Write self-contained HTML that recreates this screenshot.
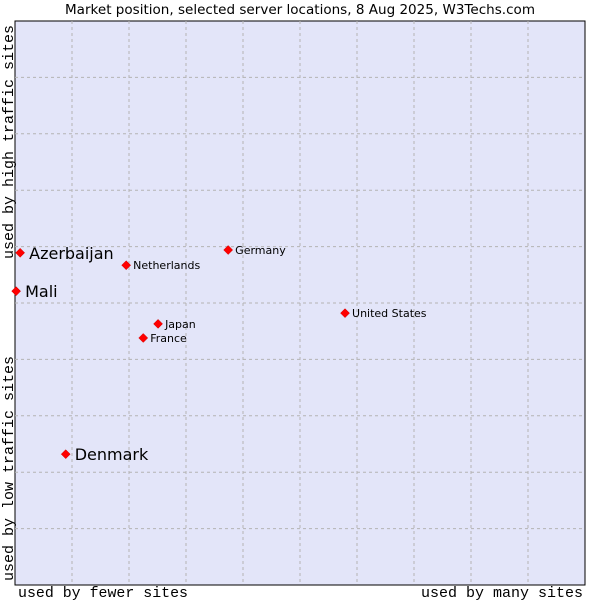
<!DOCTYPE html>
<html><head><meta charset="utf-8"><style>
body{margin:0;background:#fff;}
svg text{font-family:"DejaVu Sans","Liberation Sans",sans-serif;}
.mono{font-family:"Liberation Mono","DejaVu Sans Mono",monospace;font-size:15px;fill:#000;}
</style></head><body>
<svg id="chart" width="600" height="600" xmlns="http://www.w3.org/2000/svg">
<text x="300" y="14" text-anchor="middle" font-size="13" textLength="470" lengthAdjust="spacingAndGlyphs" fill="#000">Market position, selected server locations, 8 Aug 2025, W3Techs.com</text>
<rect x="15" y="21" width="570" height="564" fill="#e3e5f9" stroke="#000" stroke-width="1"/>
<g id="grid"></g>
<g id="points"></g>
<text class="mono" x="18" y="597" textLength="170" lengthAdjust="spacingAndGlyphs">used by fewer sites</text>
<text class="mono" x="421" y="597" textLength="162" lengthAdjust="spacingAndGlyphs">used by many sites</text>
<text class="mono" transform="translate(13,259) rotate(-90)" textLength="234" lengthAdjust="spacingAndGlyphs">used by high traffic sites</text>
<text class="mono" transform="translate(13,581) rotate(-90)" textLength="225" lengthAdjust="spacingAndGlyphs">used by low traffic sites</text>
</svg>
<script>
const names=["Azerbaijan","Mali","Denmark","Netherlands","Germany","Japan","France","United States"];
const xVals=[0.9,0.2,8.9,19.5,37.4,25.1,22.5,57.9];
const yVals=[58.9,52.1,23.2,56.7,59.4,46.3,43.8,48.2];
const big=[true,true,true,false,false,false,false,false];
const L=15,T=21,W=570,H=564,NS="http://www.w3.org/2000/svg";
const sx=v=>L+v/100*W, sy=v=>T+H-v/100*H;
const grid=document.getElementById('grid');
for(let i=1;i<10;i++){
  const vl=document.createElementNS(NS,'line');
  
  
  vl.setAttribute('x1',sx(i*10));vl.setAttribute('x2',sx(i*10));vl.setAttribute('y1',T);vl.setAttribute('y2',T+H);
  vl.setAttribute('stroke','#b4b4b4');vl.setAttribute('stroke-dasharray','3,3');grid.appendChild(vl);
  const hl=document.createElementNS(NS,'line');
  
  
  hl.setAttribute('y1',sy(i*10));hl.setAttribute('y2',sy(i*10));hl.setAttribute('x1',L);hl.setAttribute('x2',L+W);
  hl.setAttribute('stroke','#b4b4b4');hl.setAttribute('stroke-dasharray','3,3');grid.appendChild(hl);
}
const pts=document.getElementById('points');
names.forEach((n,i)=>{
  const x=sx(xVals[i]),y=sy(yVals[i]);
  const d=document.createElementNS(NS,'path');
  
  
  d.setAttribute('d',`M${x},${y-4.5}L${x+4.5},${y}L${x},${y+4.5}L${x-4.5},${y}Z`);
  d.setAttribute('fill','#f00');d.setAttribute('stroke','#c00');d.setAttribute('stroke-width','0.5');
  pts.appendChild(d);
  const t=document.createElementNS(NS,'text');
  
  
  t.setAttribute('x',x+(big[i]?9:7));t.setAttribute('y',y+(big[i]?6:4));
  t.setAttribute('font-size',big[i]?'16':'11');t.setAttribute('fill','#000');
  t.textContent=n;pts.appendChild(t);
});
</script>
</body></html>
